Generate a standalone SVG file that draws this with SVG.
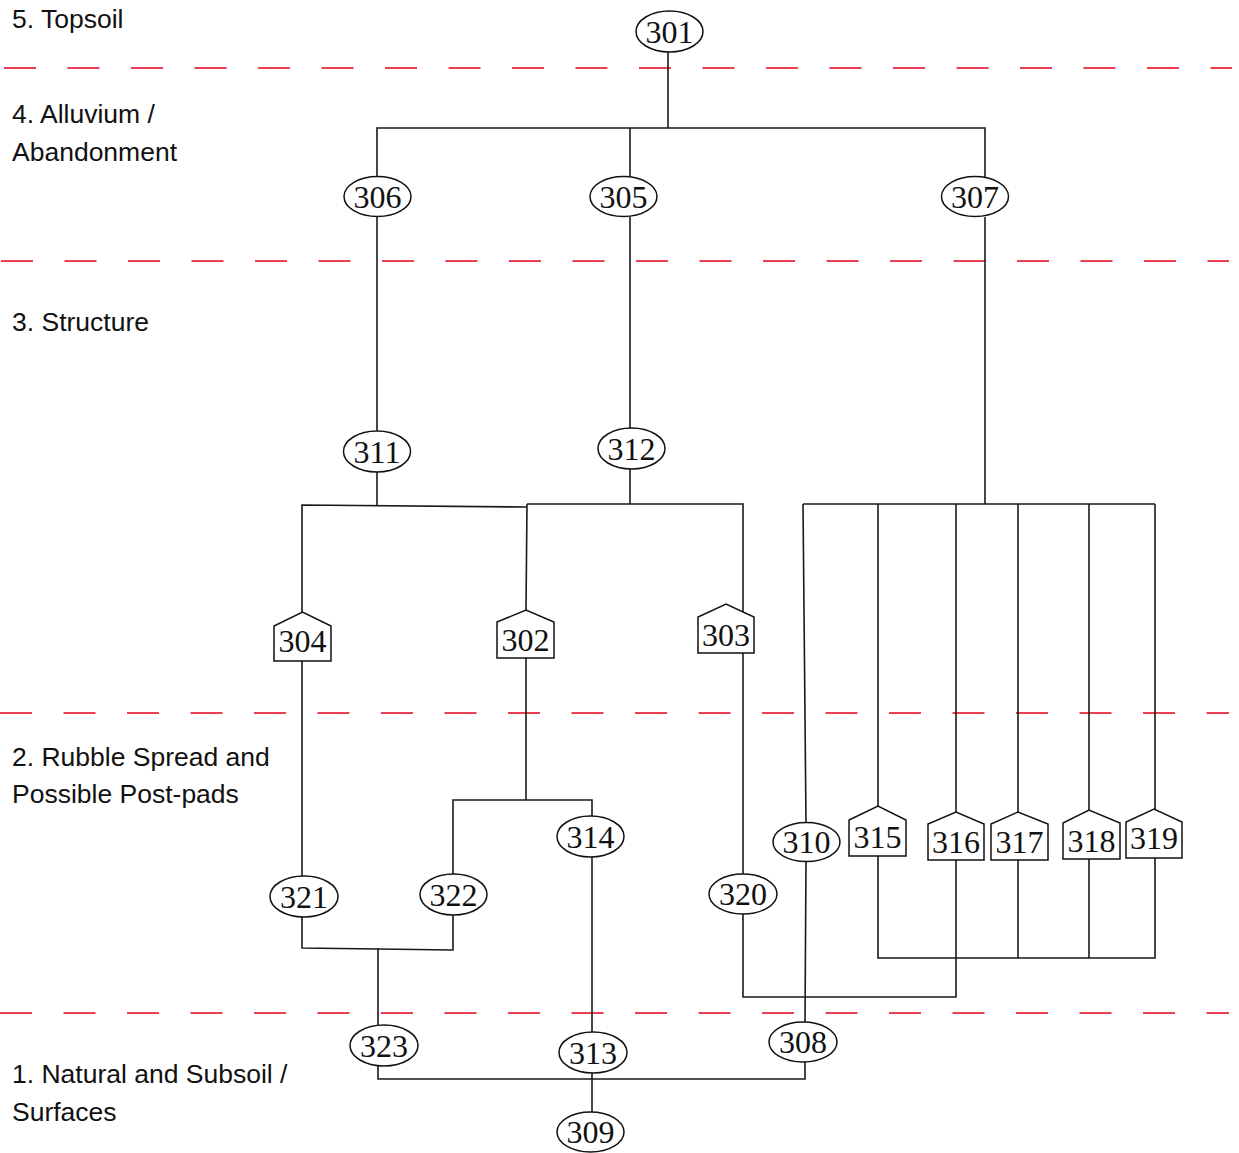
<svg xmlns="http://www.w3.org/2000/svg" width="1239" height="1153" viewBox="0 0 1239 1153">
<style>
.bg{fill:#fff}
.phase{stroke:#e8001c;stroke-width:1.6;stroke-dasharray:32 31.5;fill:none}
.lbl{font-family:"Liberation Sans",Arial,sans-serif;font-size:26.5px;fill:#111}
.n ellipse,.n polygon{fill:#fff;stroke:#111;stroke-width:1.5}
.n text{font-family:"Liberation Serif","Times New Roman",serif;font-size:32px;fill:#111;text-anchor:middle}
.c{stroke:#1a1a1a;stroke-width:1.6;fill:none}
</style>
<rect class="bg" x="0" y="0" width="1239" height="1153"/>
<g id="phases">
<line class="phase" x1="4" y1="68" x2="1232" y2="68"/>
<line class="phase" x1="1" y1="261" x2="1229" y2="261"/>
<line class="phase" x1="0" y1="713" x2="1229" y2="713"/>
<line class="phase" x1="0" y1="1013" x2="1229" y2="1013"/>
</g>
<g id="phase-labels">
<text class="lbl" x="12" y="28">5. Topsoil</text>
<text class="lbl" x="12" y="123">4. Alluvium /</text>
<text class="lbl" x="12" y="161">Abandonment</text>
<text class="lbl" x="12" y="331">3. Structure</text>
<text class="lbl" x="12" y="766">2. Rubble Spread and</text>
<text class="lbl" x="12" y="803">Possible Post-pads</text>
<text class="lbl" x="12" y="1083">1. Natural and Subsoil /</text>
<text class="lbl" x="12" y="1121">Surfaces</text>
</g>
<g id="connectors" class="c">
<path class="c" d="M668,52 V128"/>
<path class="c" d="M377,177 V128 H985 V177"/>
<path class="c" d="M630,128 V177"/>
<path class="c" d="M377,216 V431"/>
<path class="c" d="M630,217 V428"/>
<path class="c" d="M985,217 V504"/>
<path class="c" d="M803,504 H1155"/>
<path class="c" d="M803,504 L806,823"/>
<path class="c" d="M806,861 L805,1022"/>
<path class="c" d="M878,504 V806"/>
<path class="c" d="M956,504 V812"/>
<path class="c" d="M1018,504 V812"/>
<path class="c" d="M1089,504 V810"/>
<path class="c" d="M1155,504 V809"/>
<path class="c" d="M377,472 V505"/>
<path class="c" d="M302,612 V505 L527,507"/>
<path class="c" d="M527,504 L526,610"/>
<path class="c" d="M630,469 V504"/>
<path class="c" d="M527,504 H743 V612"/>
<path class="c" d="M302,661 V876"/>
<path class="c" d="M526,658 V800"/>
<path class="c" d="M453,874 V800 H592 V816"/>
<path class="c" d="M743,653 V874"/>
<path class="c" d="M302,917 V948 L453,950 V915"/>
<path class="c" d="M378,948 V1025"/>
<path class="c" d="M592,857 V1032"/>
<path class="c" d="M743,914 V997 H956 V860"/>
<path class="c" d="M878,856 V958 H1155 V858"/>
<path class="c" d="M1018,860 V958"/>
<path class="c" d="M1089,859 V958"/>
<path class="c" d="M378,1066 V1079 H805 V1062"/>
<path class="c" d="M592,1073 V1112"/>
</g>
<g id="n301" class="n"><ellipse cx="669.5" cy="31.5" rx="33.5" ry="20.5"/><text x="669.5" y="42.5">301</text></g>
<g id="n306" class="n"><ellipse cx="377.5" cy="196.5" rx="33.5" ry="20"/><text x="377.5" y="207.5">306</text></g>
<g id="n305" class="n"><ellipse cx="623.5" cy="196.5" rx="33.5" ry="20"/><text x="623.5" y="207.5">305</text></g>
<g id="n307" class="n"><ellipse cx="975" cy="196.5" rx="33.5" ry="20"/><text x="975" y="207.5">307</text></g>
<g id="n311" class="n"><ellipse cx="377" cy="451.5" rx="33.5" ry="20.5"/><text x="377" y="462.5">311</text></g>
<g id="n312" class="n"><ellipse cx="631.5" cy="448.5" rx="33.5" ry="20.5"/><text x="631.5" y="459.5">312</text></g>
<g id="n304" class="n"><polygon points="274,661 274,626 302.5,612 331,626 331,661"/><text x="302.5" y="652">304</text></g>
<g id="n302" class="n"><polygon points="497,658 497,622 526,610 554,622 554,658"/><text x="525.5" y="651">302</text></g>
<g id="n303" class="n"><polygon points="698,653 698,617 726,604 754,617 754,653"/><text x="726" y="646">303</text></g>
<g id="n315" class="n"><polygon points="849,856 849,820 878,806 906,820 906,856"/><text x="877.5" y="848">315</text></g>
<g id="n316" class="n"><polygon points="928,860 928,824 956,812 984,824 984,860"/><text x="956" y="853">316</text></g>
<g id="n317" class="n"><polygon points="991,860 991,824 1018,812 1048,824 1048,860"/><text x="1019.5" y="853">317</text></g>
<g id="n318" class="n"><polygon points="1063,859 1063,823 1089,810 1120,823 1120,859"/><text x="1091.5" y="852">318</text></g>
<g id="n319" class="n"><polygon points="1126,858 1126,822 1154,809 1182,822 1182,858"/><text x="1154" y="849">319</text></g>
<g id="n310" class="n"><ellipse cx="806.5" cy="842" rx="33.5" ry="19.5"/><text x="806.5" y="853">310</text></g>
<g id="n314" class="n"><ellipse cx="590.5" cy="836.5" rx="33.5" ry="20.5"/><text x="590.5" y="847.5">314</text></g>
<g id="n321" class="n"><ellipse cx="304" cy="896.5" rx="34" ry="20.5"/><text x="304" y="907.5">321</text></g>
<g id="n322" class="n"><ellipse cx="453.5" cy="894.5" rx="33.5" ry="20.5"/><text x="453.5" y="905.5">322</text></g>
<g id="n320" class="n"><ellipse cx="743" cy="894" rx="34" ry="20"/><text x="743" y="905">320</text></g>
<g id="n323" class="n"><ellipse cx="384" cy="1045.5" rx="34" ry="20.5"/><text x="384" y="1056.5">323</text></g>
<g id="n313" class="n"><ellipse cx="593" cy="1052.5" rx="34" ry="20.5"/><text x="593" y="1063.5">313</text></g>
<g id="n308" class="n"><ellipse cx="803" cy="1042" rx="34" ry="20"/><text x="803" y="1053">308</text></g>
<g id="n309" class="n"><ellipse cx="590.5" cy="1132" rx="33.5" ry="20"/><text x="590.5" y="1143">309</text></g>
</svg>
